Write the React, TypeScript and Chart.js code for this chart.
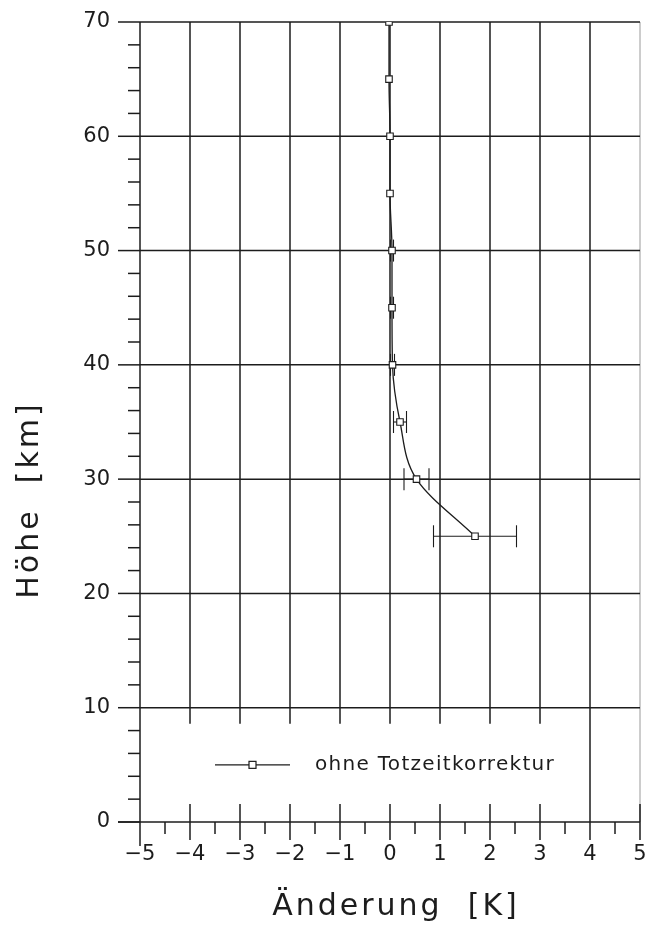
import React, { useEffect, useRef } from "react";
import { Chart, registerables } from "chart.js";

Chart.register(...registerables);

// ---- data ----
const heights = [70, 65, 60, 55, 50, 45, 40, 35, 30, 25];
const changes = [-0.02, -0.02, 0.0, 0.0, 0.04, 0.04, 0.05, 0.2, 0.53, 1.7];
const errors = [0, 0, 0, 0, 0.03, 0.03, 0.04, 0.13, 0.25, 0.83];

const xTicks = [-5, -4, -3, -2, -1, 0, 1, 2, 3, 4, 5];
const yTicks = [0, 10, 20, 30, 40, 50, 60, 70];
const yMinorStep = 2;
const xMinorStep = 0.5;

const legendLabel = "ohne Totzeitkorrektur";
const xTitle = "Änderung  [K]";
const yTitle = "Höhe  [km]";

const FONT = "'DejaVu Sans', sans-serif";
const INK = "#1c1c1c";

const decorPlugin = {
  id: "decor",
  beforeDatasetsDraw(chart: any) {
    const { ctx, scales } = chart;
    const xs = scales.x;
    const ys = scales.y;
    const X = (v: number) => xs.getPixelForValue(v);
    const Y = (v: number) => ys.getPixelForValue(v);
    const xMin = xTicks[0];
    const xMax = xTicks[xTicks.length - 1];
    const yMin = yTicks[0];
    const yMax = yTicks[yTicks.length - 1];
    const line = (x1: number, y1: number, x2: number, y2: number) => {
      ctx.beginPath();
      ctx.moveTo(x1, y1);
      ctx.lineTo(x2, y2);
      ctx.stroke();
    };
    ctx.save();
    // right border (light)
    ctx.strokeStyle = "#9a9a9a";
    ctx.lineWidth = 1;
    line(X(xMax), Y(yMax), X(xMax), Y(yMin));

    ctx.strokeStyle = INK;
    ctx.lineWidth = 1.5;
    // horizontal grid lines
    for (const t of yTicks) {
      if (t === yMin) continue;
      line(X(xMin), Y(t), X(xMax), Y(t));
    }
    // vertical grid lines (stop below the 10 km line, except the 4 K line)
    for (const t of xTicks) {
      if (t === xMin || t === xMax) continue;
      const bottom = t === 4 ? Y(yMin) + 18 : Y(10) + 16;
      line(X(t), Y(yMax), X(t), bottom);
    }
    // x axis at 0 km
    line(X(xMin) - 22, Y(yMin), X(xMax), Y(yMin));
    for (const t of xTicks) {
      if (t === xMin || t === 4) continue;
      line(X(t), Y(yMin) - 18, X(t), Y(yMin) + 18);
    }
    for (let v = xMin + xMinorStep; v < xMax; v += 1) {
      line(X(v), Y(yMin), X(v), Y(yMin) + 12);
    }
    // y axis
    line(X(xMin), Y(yMax), X(xMin), Y(yMin) + 24);
    for (const t of yTicks) line(X(xMin) - 22, Y(t), X(xMin), Y(t));
    for (let v = yMin + yMinorStep; v < yMax; v += yMinorStep) {
      if (v % 10 === 0) continue;
      line(X(xMin) - 12, Y(v), X(xMin), Y(v));
    }

    // error bars
    ctx.lineWidth = 1.1;
    heights.forEach((h, i) => {
      const e = errors[i];
      if (!e) return;
      const c = changes[i];
      const y = Y(h);
      line(X(c - e), y, X(c + e), y);
      line(X(c - e), y - 11, X(c - e), y + 11);
      line(X(c + e), y - 11, X(c + e), y + 11);
    });
    ctx.restore();
  },
  afterDatasetsDraw(chart: any) {
    const { ctx, scales } = chart;
    const xs = scales.x;
    const ys = scales.y;
    const X = (v: number) => xs.getPixelForValue(v);
    const Y = (v: number) => ys.getPixelForValue(v);
    ctx.save();
    // legend
    const ly = Y(5);
    ctx.strokeStyle = INK;
    ctx.lineWidth = 1.2;
    ctx.beginPath();
    ctx.moveTo(X(-3.5), ly);
    ctx.lineTo(X(-2.0), ly);
    ctx.stroke();
    const sx = X(-2.75);
    ctx.fillStyle = "#fff";
    ctx.fillRect(sx - 3.5, ly - 3.5, 7, 7);
    ctx.strokeRect(sx - 3.5, ly - 3.5, 7, 7);
    ctx.fillStyle = INK;
    ctx.font = `20px ${FONT}`;
    (ctx as any).letterSpacing = "1.3px";
    ctx.textAlign = "left";
    ctx.textBaseline = "middle";
    ctx.fillText(legendLabel, X(-1.5), ly);

    // axis titles
    ctx.font = `30px ${FONT}`;
    (ctx as any).letterSpacing = "3px";
    ctx.textAlign = "center";
    ctx.textBaseline = "middle";
    ctx.fillText(xTitle, X(0) + 6, 907);
    ctx.translate(30, 500);
    ctx.rotate(-Math.PI / 2);
    ctx.fillText(yTitle, 0, 0);
    ctx.restore();
  },
};

export default function App() {
  const ref = useRef<HTMLCanvasElement | null>(null);
  useEffect(() => {
    document.body.style.margin = "0";
    const canvas = ref.current;
    if (!canvas) return;
    const points = heights.map((h, i) => ({ x: changes[i], y: h }));
    const chart = new Chart(canvas, {
      type: "scatter",
      data: {
        datasets: [
          {
            label: legendLabel,
            data: points,
            showLine: true,
            indexAxis: "y",
            cubicInterpolationMode: "monotone",
            borderColor: INK,
            borderWidth: 1.3,
            pointStyle: "rect",
            pointRadius: 4.6,
            pointBorderWidth: 1.1,
            pointBackgroundColor: "#ffffff",
            pointBorderColor: INK,
          },
        ],
      },
      options: {
        animation: false,
        responsive: false,
        maintainAspectRatio: false,
        layout: { padding: { left: 0, right: 11, top: 22, bottom: 0 } },
        plugins: { legend: { display: false }, tooltip: { enabled: false } },
        scales: {
          x: {
            type: "linear",
            min: -5,
            max: 5,
            grid: { display: false, drawTicks: false },
            border: { display: false },
            afterBuildTicks: (s: any) => {
              s.ticks = xTicks.map((v) => ({ value: v }));
            },
            afterFit: (s: any) => {
              s.height = 123;
              s.paddingLeft = 0;
              s.paddingRight = 0;
              s.paddingTop = 0;
              s.paddingBottom = 0;
            },
            ticks: {
              padding: 20,
              color: INK,
              font: { family: FONT, size: 21 },
              maxRotation: 0,
              autoSkip: false,
              callback: (v: any) => (Number(v) < 0 ? "\u2212" + Math.abs(Number(v)) : String(v)),
            },
          },
          y: {
            type: "linear",
            min: 0,
            max: 70,
            grid: { display: false, drawTicks: false },
            border: { display: false },
            afterBuildTicks: (s: any) => {
              s.ticks = yTicks.map((v) => ({ value: v }));
            },
            afterFit: (s: any) => {
              s.width = 140;
              s.paddingLeft = 0;
              s.paddingRight = 0;
              s.paddingTop = 0;
              s.paddingBottom = 0;
            },
            ticks: {
              padding: 30,
              color: INK,
              font: { family: FONT, size: 21 },
              autoSkip: false,
            },
          },
        },
      },
      plugins: [decorPlugin],
    } as any);
    return () => chart.destroy();
  }, []);
  return (
    <canvas
      ref={ref}
      width={651}
      height={945}
      style={{ display: "block", width: 651, height: 945 }}
    />
  );
}
